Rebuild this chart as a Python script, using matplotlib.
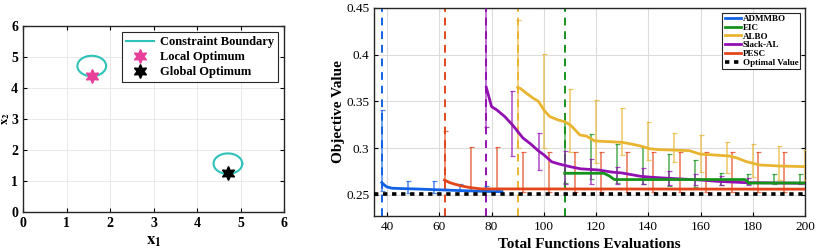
import numpy as np
import matplotlib
matplotlib.use("Agg")
import matplotlib.pyplot as plt

plt.rcParams["font.family"] = ["Liberation Serif", "DejaVu Serif"]
plt.rcParams["mathtext.fontset"] = "stix"

# ---- left panel data ----
circle_centers = [(1.58, 4.71), (4.71, 1.56)]
circle_radius = 0.33
local_opt = (1.58, 4.40)
global_opt = (4.71, 1.26)

# ---- right panel data ----
admm_x = [38, 39, 40, 42, 46, 50, 60, 70, 78, 84]
admm_y = [0.2632, 0.2605, 0.2585, 0.2572, 0.2568, 0.2565, 0.2555, 0.2545, 0.2538, 0.2535]
admm_ex = [38, 48, 58, 68, 78]
admm_lo = [0.2540, 0.2525, 0.2525, 0.2538, 0.2540]
admm_hi = [0.3410, 0.2650, 0.2645, 0.2618, 0.2600]

pesc_x = [62, 63, 64, 66, 68, 70, 72, 76, 200]
pesc_y = [0.2660, 0.2645, 0.2632, 0.2615, 0.2600, 0.2588, 0.2578, 0.2565, 0.2562]
pesc_ex = [62, 72, 82, 92, 102, 112, 122, 132, 142, 152, 162, 172, 182, 192]
pesc_lo = [0.2560, 0.2555, 0.2550, 0.2535, 0.2535, 0.2535, 0.2535, 0.2535, 0.2535,
           0.2535, 0.2535, 0.2535, 0.2535, 0.2535]
pesc_hi = [0.3180, 0.3010, 0.3010, 0.2957, 0.2957, 0.2957, 0.2957, 0.2957, 0.2957,
           0.2957, 0.2957, 0.2957, 0.2957, 0.2957]

slack_x = [78, 80, 82, 85, 88, 92, 95, 98, 100, 103, 106, 110, 114, 121, 126, 130,
           137, 141, 148, 160, 167, 177, 200]
slack_y = [0.365, 0.3445, 0.341, 0.334, 0.325, 0.311, 0.3045, 0.297, 0.293, 0.2855,
           0.283, 0.2803, 0.278, 0.2767, 0.2745, 0.2735, 0.2700, 0.2690, 0.2678,
           0.2660, 0.2645, 0.2632, 0.2625]
slack_ex = [78, 88, 98, 108, 118, 128, 138, 148, 158, 168, 178]
slack_lo = [0.323, 0.2917, 0.2767, 0.262, 0.262, 0.262, 0.262, 0.2607, 0.2605, 0.2605, 0.2605]
slack_hi = [0.470, 0.3616, 0.3167, 0.2974, 0.2885, 0.2803, 0.2786, 0.2757, 0.2720, 0.2700, 0.2680]

albo_x = [90, 91, 93.4, 96, 98, 100, 102.3, 105.5, 108, 110.6, 113.8, 116.3, 119.5, 125,
          130, 134, 137, 140.5, 144, 150, 155.8, 159.7, 171, 174, 177.5, 182.6, 190, 200]
albo_y = [0.365, 0.364, 0.3587, 0.3534, 0.350, 0.341, 0.3338, 0.3302, 0.3284, 0.3238,
          0.3142, 0.313, 0.3078, 0.307, 0.3063, 0.3042, 0.3024, 0.2995, 0.2985, 0.298,
          0.2974, 0.2938, 0.2917, 0.2895, 0.2857, 0.2821, 0.281, 0.2803]
albo_ex = [90, 100, 110, 120, 130, 140, 150, 160, 170, 180, 190, 200]
albo_lo = [0.300, 0.3006, 0.2963, 0.2839, 0.2928, 0.2874, 0.2856, 0.275, 0.2732, 0.2696, 0.266, 0.266]
albo_hi = [0.437, 0.4005, 0.363, 0.3516, 0.3434, 0.3277, 0.3167, 0.3142, 0.3063, 0.3042, 0.3027, 0.2981]

eic_x = [108, 123, 125, 127, 177, 178.5, 200]
eic_y = [0.2732, 0.2732, 0.2705, 0.2665, 0.2665, 0.2628, 0.2628]
eic_ex = [108, 118, 128, 138, 148, 158, 168, 178, 188, 198]
eic_lo = [0.263, 0.267, 0.2625, 0.262, 0.260, 0.2582, 0.2607, 0.262, 0.262, 0.262]
eic_hi = [0.328, 0.315, 0.304, 0.301, 0.2935, 0.2874, 0.2732, 0.2725, 0.2725, 0.2725]

start_x = {"ADMMBO": 38, "PESC": 62, "Slack-AL": 78, "ALBO": 90, "EIC": 108}
optimal_value = 0.2505

colors = {
    "ADMMBO": "#1262E6",
    "EIC": "#17931C",
    "ALBO": "#E9B531",
    "Slack-AL": "#9210B2",
    "PESC": "#E2461A",
}

fig = plt.figure(figsize=(8.16, 2.52), dpi=100)

# ---------------- left panel ----------------
ax1 = fig.add_axes([23 / 816, 1 - 212 / 252, 261 / 816, 186 / 252])
t = np.linspace(0, 2 * np.pi, 200)
for i, (cx, cy) in enumerate(circle_centers):
    ax1.plot(cx + circle_radius * np.cos(t), cy + circle_radius * np.sin(t),
             color="#2EC2B8", lw=1.5, label="Constraint Boundary" if i == 0 else None)
ax1.plot(*local_opt, marker=(6, 1, 0), ms=10, color="#E8409A", ls="none", label="Local Optimum")
ax1.plot(*global_opt, marker=(6, 1, 0), ms=10, color="black", ls="none", label="Global Optimum")
ax1.set_xlim(0, 6)
ax1.set_ylim(0, 6)
ax1.set_xticks(range(7))
ax1.set_yticks(range(7))
ax1.grid(True, color="#e6e6e6", lw=0.6)
ax1.tick_params(direction="in", top=True, right=True, labelsize=10, length=3, width=0.8)
for lab in ax1.get_xticklabels() + ax1.get_yticklabels():
    lab.set_fontweight("bold")
for s in ax1.spines.values():
    s.set_linewidth(1.0)
    s.set_color("#262626")
ax1.set_xlabel(r"$\mathbf{x_1}$", fontsize=12, labelpad=2)
# y label sits right against the figure edge, as in the original
ax1.set_ylabel(r"$\mathbf{x_2}$", fontsize=9)
ax1.yaxis.set_label_coords(-0.044, 0.5)
leg1 = ax1.legend(loc="upper right", prop={"weight": "bold", "size": 9},
                  fancybox=False, edgecolor="#262626", framealpha=1,
                  handlelength=2.2, borderpad=0.3, labelspacing=0.25,
                  handletextpad=0.5, borderaxespad=0.5)
leg1.get_frame().set_linewidth(0.8)

# ---------------- right panel ----------------
ax2 = fig.add_axes([374 / 816, 1 - 216 / 252, 431 / 816, 208 / 252])

series = [
    ("ADMMBO", admm_x, admm_y, admm_ex, admm_lo, admm_hi),
    ("EIC", eic_x, eic_y, eic_ex, eic_lo, eic_hi),
    ("ALBO", albo_x, albo_y, albo_ex, albo_lo, albo_hi),
    ("Slack-AL", slack_x, slack_y, slack_ex, slack_lo, slack_hi),
    ("PESC", pesc_x, pesc_y, pesc_ex, pesc_lo, pesc_hi),
]
zorders = {"ADMMBO": 4, "EIC": 6, "ALBO": 5, "Slack-AL": 4.5, "PESC": 5.5}

for name, x, y, ex, lo, hi in series:
    c = colors[name]
    lo = np.array(lo)
    hi = np.array(hi)
    ax2.errorbar(ex, lo, yerr=[np.zeros_like(lo), hi - lo], fmt="none",
                 ecolor=c, alpha=0.75, elinewidth=1.1, capsize=1.8, capthick=0.9, zorder=3)
    ax2.axvline(start_x[name], color=c, ls=(0, (4, 3)), lw=1.4, zorder=2)

for name, x, y, ex, lo, hi in series:
    ax2.plot(x, y, color=colors[name], lw=2.0, label=name, zorder=zorders[name],
             solid_joinstyle="round")

ax2.plot([35, 200], [optimal_value, optimal_value], color="black", lw=2.6,
         dashes=(1.2, 1.3), label="Optimal Value", zorder=7)

ax2.set_xlim(35, 200)
ax2.set_ylim(0.2275, 0.45)
ax2.set_xticks([40, 60, 80, 100, 120, 140, 160, 180, 200])
ax2.set_yticks([0.25, 0.3, 0.35, 0.4, 0.45])
ax2.set_yticklabels(["0.25", "0.3", "0.35", "0.4", "0.45"])
ax2.grid(True, color="#dcdcdc", lw=0.8)
ax2.tick_params(direction="in", top=False, right=True, labelsize=9.5, length=3, width=0.8)
for s in ax2.spines.values():
    s.set_linewidth(1.0)
    s.set_color("#262626")
ax2.set_xlabel("Total Functions Evaluations", fontsize=11, fontweight="bold", labelpad=4)
ax2.set_ylabel("Objective Value", fontsize=11, fontweight="bold", labelpad=1)
leg2 = ax2.legend(loc="upper right", prop={"weight": "bold", "size": 6.5},
                  fancybox=False, edgecolor="#262626", framealpha=1,
                  handlelength=1.8, borderpad=0.25, labelspacing=0.05,
                  handletextpad=0.2, borderaxespad=0.5)
leg2.get_frame().set_linewidth(0.8)

fig.savefig("out.png", dpi=100, facecolor="white")
